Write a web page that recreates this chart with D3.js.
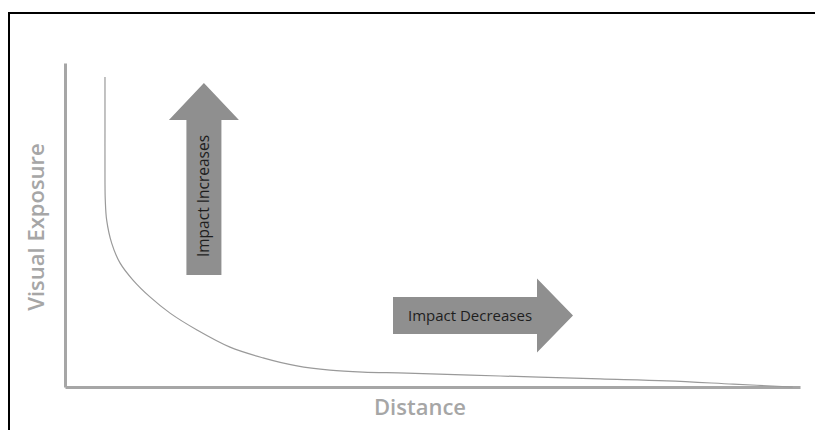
<!DOCTYPE html>
<html>
<head>
<meta charset="utf-8">
<script src="https://cdn.jsdelivr.net/npm/d3@7/dist/d3.min.js"></script>
<style>
  html, body { margin: 0; padding: 0; background: #fff; }
  svg { display: block; }
</style>
</head>
<body>
<svg id="chart" width="815" height="430"></svg>
<script>
// Curve data (distance vs visual exposure, arbitrary units 0-100)
const distance = [5.44, 5.44, 5.44, 5.48, 5.67, 6.35, 7.48, 9.25, 11.56, 14.29, 17.96, 22.45, 26.94, 31.56, 36.05, 40.54, 46.5, 59.2, 72.8, 81.9, 90.9, 99];
const exposure = [95.7, 79.3, 63.9, 57.7, 51.5, 44.4, 38.3, 33.0, 27.8, 22.8, 17.6, 12.3, 9.0, 6.5, 5.2, 4.6, 4.3, 3.4, 2.5, 1.9, 0.9, 0];
const xLabel = "Distance";
const yLabel = "Visual Exposure";
const annotations = ["Impact Increases", "Impact Decreases"];

const svg = d3.select("#chart");
const W = 815, H = 430;
const m = { left: 65, right: 15, top: 63, bottom: 43 };

const x = d3.scaleLinear().domain([0, 100]).range([m.left, W - m.right]);
const y = d3.scaleLinear().domain([0, 100]).range([H - m.bottom, m.top]);

// Frame (top and left edges visible)
svg.append("line").attr("x1", 8).attr("x2", W).attr("y1", 13).attr("y2", 13)
  .attr("stroke", "#000").attr("stroke-width", 2);
svg.append("line").attr("x1", 9).attr("x2", 9).attr("y1", 12).attr("y2", H)
  .attr("stroke", "#000").attr("stroke-width", 2);

const axisColor = "#a6a6a6";
// Axes
const gx = svg.append("g").attr("transform", `translate(0,${y(0)})`)
  .call(d3.axisBottom(x).ticks(0).tickSizeOuter(0));
const gy = svg.append("g").attr("transform", `translate(${x(0)},0)`)
  .call(d3.axisLeft(y).ticks(0).tickSizeOuter(0));
[gx, gy].forEach(g => {
  g.select(".domain").attr("stroke", axisColor).attr("stroke-width", 3);
  g.selectAll("text").remove();
});

// Axis labels
svg.append("text").attr("x", 420).attr("y", 415)
  .attr("text-anchor", "middle")
  .attr("font-family", "Open Sans").attr("font-weight", 600).attr("font-size", 22)
  .attr("fill", axisColor).text(xLabel);
svg.append("text")
  .attr("transform", `translate(44,${227}) rotate(-90)`)
  .attr("text-anchor", "middle")
  .attr("font-family", "Open Sans").attr("font-weight", 600).attr("font-size", 22)
  .attr("fill", axisColor).text(yLabel);

// Curve
const pts = distance.map((d, i) => [d, exposure[i]]);
const line = d3.line().x(d => x(d[0])).y(d => y(d[1])).curve(d3.curveCatmullRom.alpha(0.5));
svg.append("path").datum(pts).attr("d", line)
  .attr("fill", "none").attr("stroke", "#9a9a9a").attr("stroke-width", 1.2);

// Arrows
const arrowFill = "#8f8f8f";
// Up arrow
const ux = x(18.9), uTop = 83, uHeadBase = 120, uBottom = 275, uHalfHead = 35, uHalfShaft = 17.5;
svg.append("path")
  .attr("d", `M${ux},${uTop} L${ux + uHalfHead},${uHeadBase} L${ux + uHalfShaft},${uHeadBase} L${ux + uHalfShaft},${uBottom} L${ux - uHalfShaft},${uBottom} L${ux - uHalfShaft},${uHeadBase} L${ux - uHalfHead},${uHeadBase} Z`)
  .attr("fill", arrowFill);
svg.append("text")
  .attr("transform", `translate(${ux + 5},196) rotate(-90)`)
  .attr("text-anchor", "middle")
  .attr("font-family", "Open Sans").attr("font-size", 15.5)
  .attr("fill", "#1e1e1e").text(annotations[0]);

// Right arrow
const ry = 315.5, rLeft = 393, rHeadBase = 537, rTip = 573, rHalfHead = 37, rHalfShaft = 18.5;
svg.append("path")
  .attr("d", `M${rTip},${ry} L${rHeadBase},${ry - rHalfHead} L${rHeadBase},${ry - rHalfShaft} L${rLeft},${ry - rHalfShaft} L${rLeft},${ry + rHalfShaft} L${rHeadBase},${ry + rHalfShaft} L${rHeadBase},${ry + rHalfHead} Z`)
  .attr("fill", arrowFill);
svg.append("text")
  .attr("x", 470).attr("y", ry + 5)
  .attr("text-anchor", "middle")
  .attr("font-family", "Open Sans").attr("font-size", 15)
  .attr("fill", "#1e1e1e").text(annotations[1]);
</script>
</body>
</html>
